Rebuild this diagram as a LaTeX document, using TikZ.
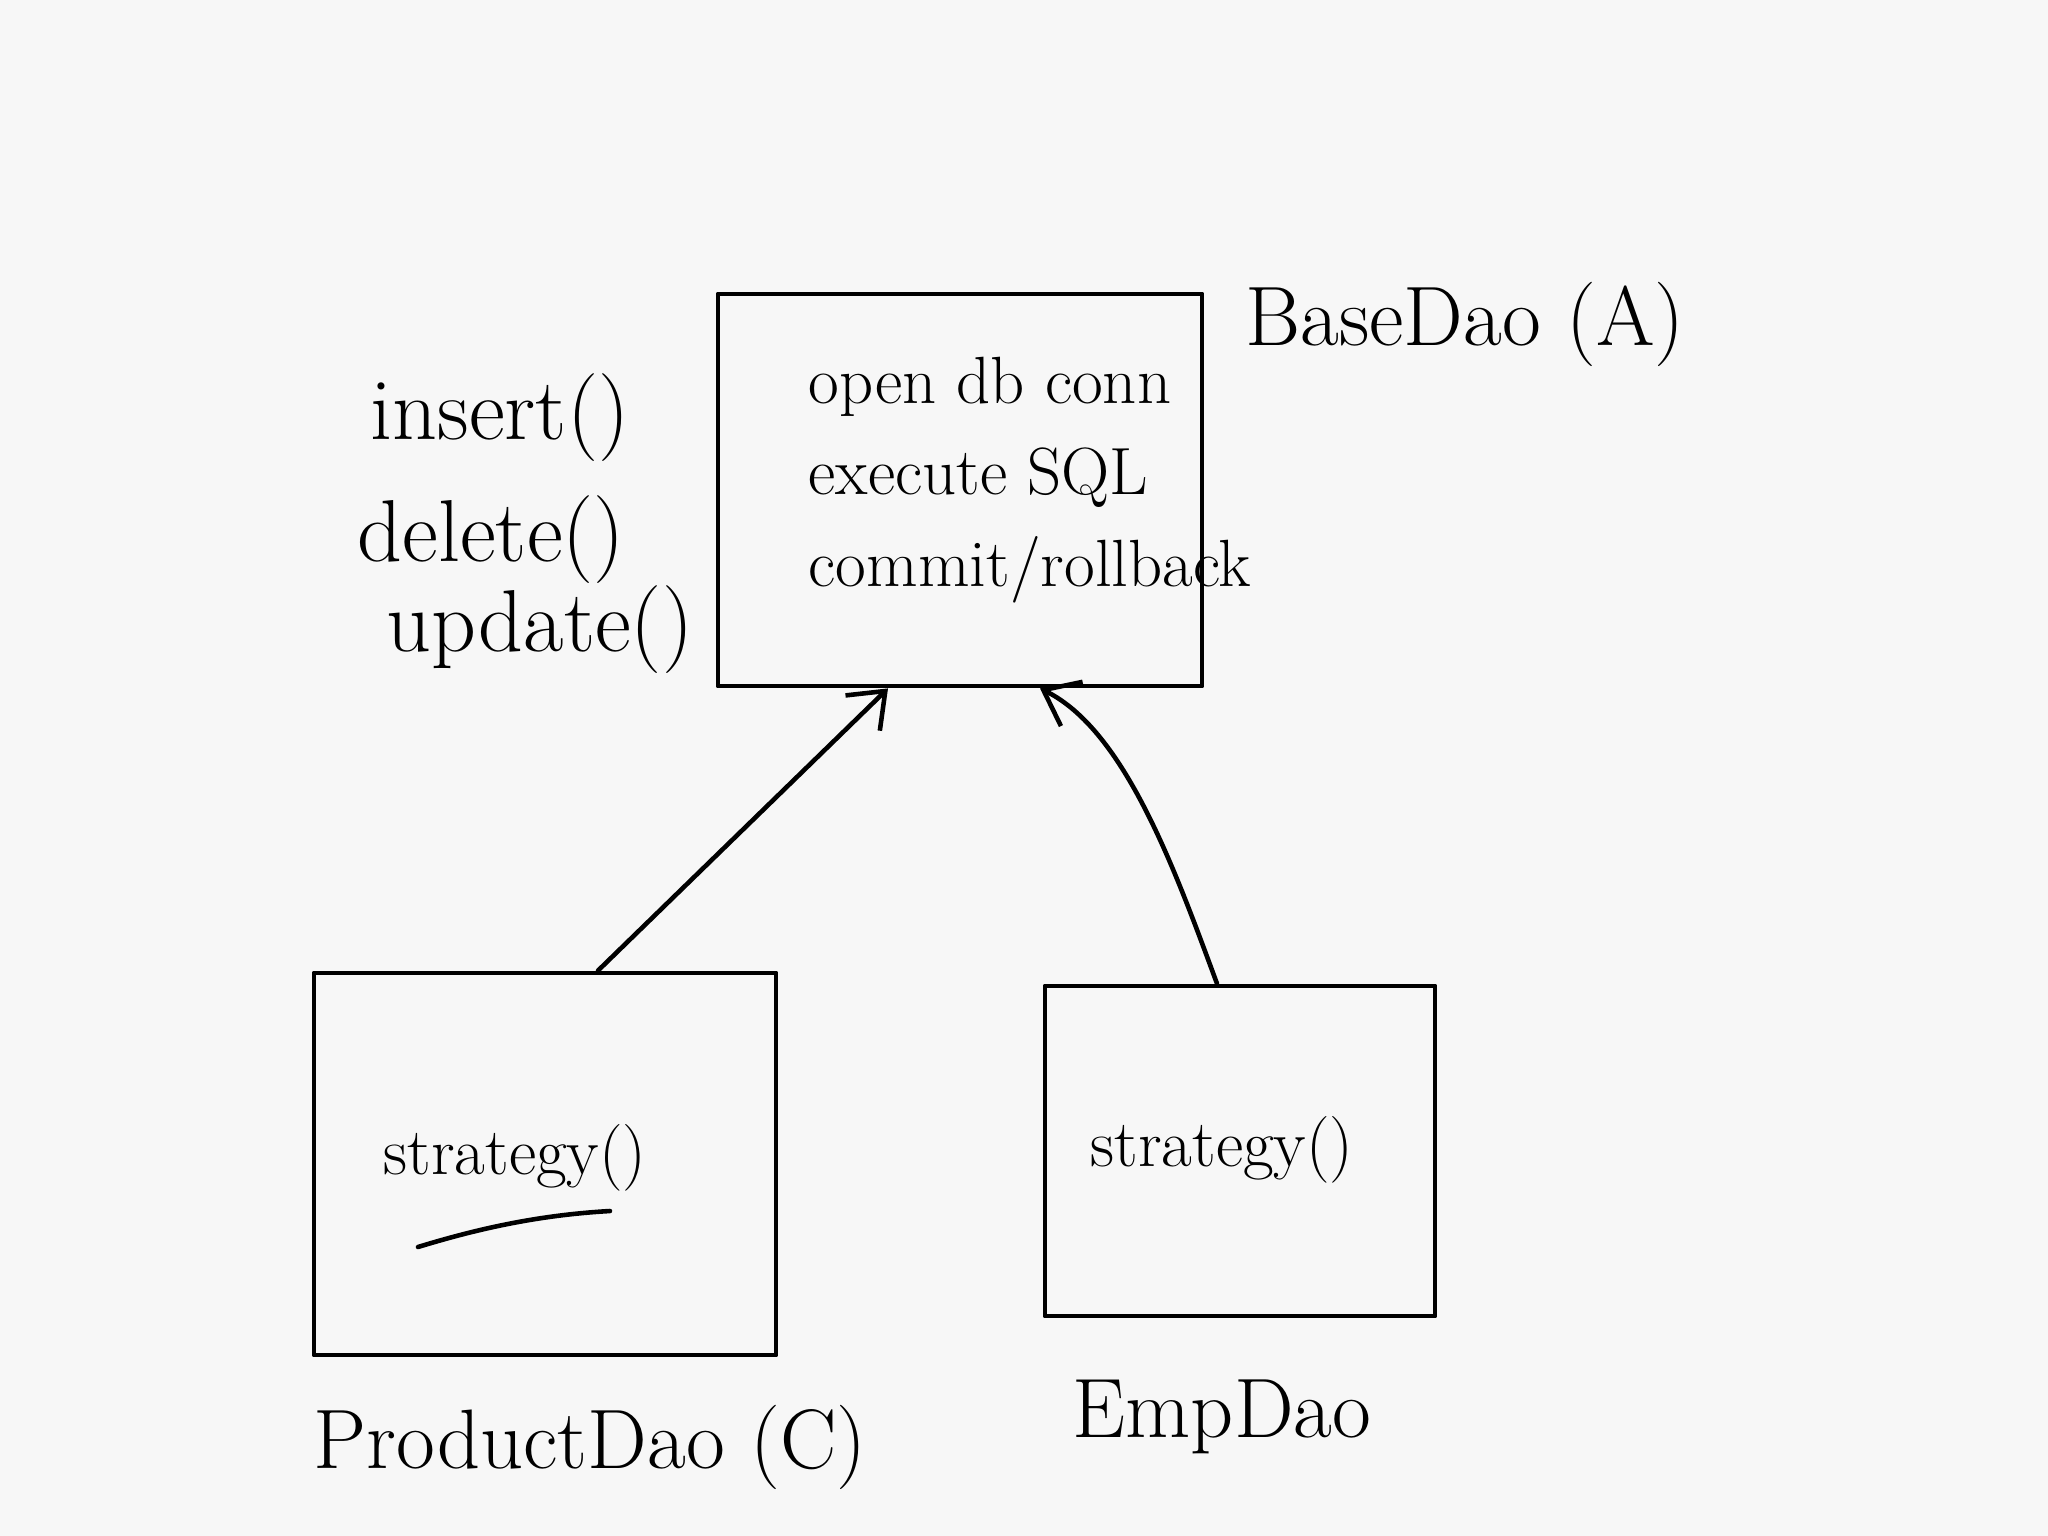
\documentclass[tikz,border=0pt]{standalone}
\usetikzlibrary{arrows.meta}
\begin{document}
\begin{tikzpicture}[x=0.01cm,y=-0.01cm,
  ink/.style={line width=1.3pt,line cap=round,line join=round},
  boxnode/.style={ink,draw,rectangle,inner sep=0pt},
  txt/.style={inner sep=0pt,font=\fontsize{19}{26}\selectfont},
  methtxt/.style={inner sep=0pt,anchor=west,font=\fontsize{25}{30}\selectfont},
  bigtxt/.style={inner sep=0pt,font=\fontsize{24}{28}\selectfont},
  tip/.style={-{Straight Barb[length=9pt,width=14pt,line width=1.3pt]}}]
\useasboundingbox[fill=black!3] (0,0) rectangle (2048,1536);
% boxes
\node[boxnode,minimum width=4.84cm,minimum height=3.92cm] (base) at (960,490) {};
\node[boxnode,minimum width=4.62cm,minimum height=3.82cm] (prod) at (545,1164) {};
\node[boxnode,minimum width=3.90cm,minimum height=3.30cm] (emp) at (1240,1151) {};
% text in base box
\node[txt,anchor=west,align=left] (basetxt) at (808,480) {open db conn\\execute SQL\\commit/rollback};
\node[bigtxt] (baselbl) at (1465,324) {BaseDao (A)};
% methods
\node[methtxt] (ins) at (370,418) {insert()};
\node[methtxt] (del) at (357,540) {delete()};
\node[methtxt] (upd) at (386,630) {update()};
% product dao
\node[txt] (pstrat) at (515,1158) {strategy()};
\coordinate (ul1) at (418,1247);
\coordinate (ul2) at (610,1211);
\draw[ink] (ul1) .. controls (480,1228) and (540,1215) .. (ul2);
\node[bigtxt] (plbl) at (590,1447) {ProductDao (C)};
% emp dao
\node[txt] (estrat) at (1222,1150) {strategy()};
\node[bigtxt] (elbl) at (1222,1417) {EmpDao};
% connectors
\draw[ink,tip] (prod.north -| 598,0) -- (base.south -| 888,0);
\draw[ink,tip] (emp.north -| 1217,0) .. controls (1175,870) and (1125,730) .. (base.south -| 1040,0);
\end{tikzpicture}
\end{document}
